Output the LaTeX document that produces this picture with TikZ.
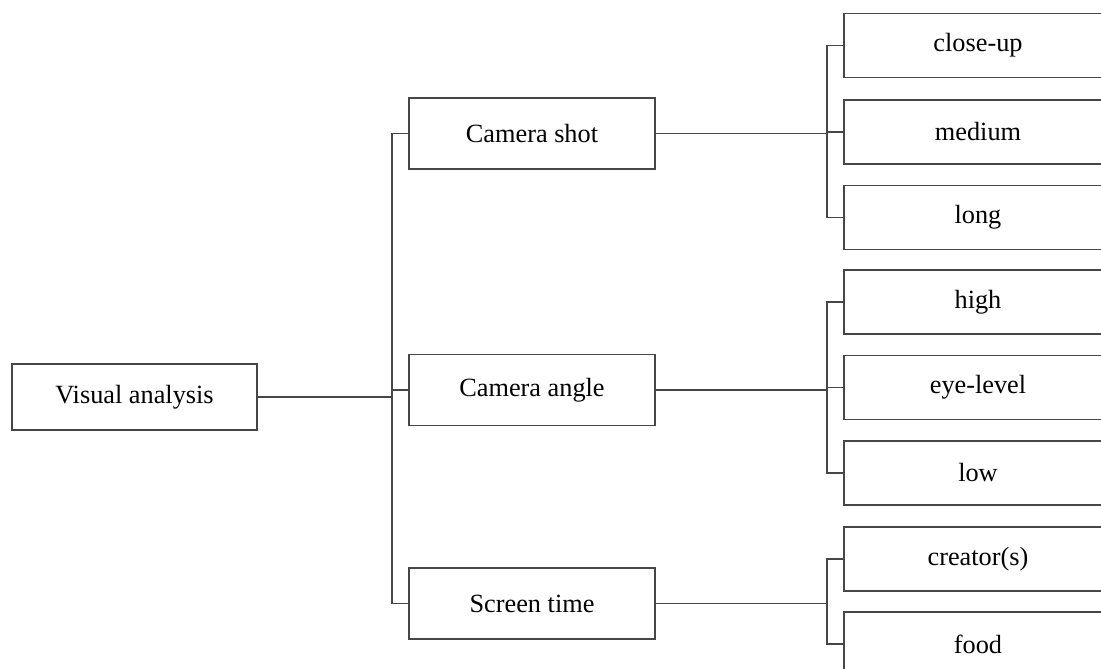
\documentclass[tikz,border=0pt]{standalone}
\usepackage{fontspec}
\setmainfont{Liberation Serif}
\usepackage{tikz}
\usetikzlibrary{positioning, calc}
\definecolor{edge}{RGB}{70,70,70}

\begin{document}
\begin{tikzpicture}[
  x=0.025cm, y=-0.025cm,
  box/.style={draw=edge, line width=0.8pt, align=center, inner sep=0pt,
              font=\fontsize{18.7}{22}\selectfont},
  rootbox/.style={box, minimum width=6.125cm, minimum height=1.65cm},
  midbox/.style={box, minimum width=6.15cm, minimum height=1.775cm},
  leafbox/.style={box, minimum width=6.7cm, minimum height=1.6cm},
  link/.style={draw=edge, line width=0.8pt},
]
  \useasboundingbox (0,0) rectangle (1101,669);
  \clip (0,0) rectangle (1101,669);

  \node[rootbox] (visual) at (134.5, 397) {Visual analysis};

  \node[midbox] (shot)  at (532, 133.5) {Camera shot};
  \node[midbox] (angle) at (532, 390)   {Camera angle};
  \node[midbox] (time)  at (532, 603.5) {Screen time};

  \node[leafbox] (closeup) at (978, 45.5)  {close-up};
  \node[leafbox] (medium)  at (978, 132)   {medium};
  \node[leafbox] (long)    at (978, 217.5) {long};
  \node[leafbox] (high)    at (978, 302)   {high};
  \node[leafbox] (eye)     at (978, 387.5) {eye-level};
  \node[leafbox] (low)     at (978, 473)   {low};
  \node[leafbox] (creator) at (978, 559)   {creator(s)};
  \node[leafbox] (food)    at (978, 644)   {food};

  % branch points
  \coordinate (busA) at (392, 397);
  \coordinate (busB) at (827, 133.5);
  \coordinate (busC) at (827, 390);
  \coordinate (busD) at (827, 603.5);

  \draw[link] (visual.east) -- (busA);
  \draw[link] (shot.west) -| (busA) |- (time.west);
  \draw[link] (angle.west) -- (angle.west -| busA);

  \draw[link] (shot.east) -- (busB);
  \draw[link] (closeup.west) -| (busB) |- (long.west);
  \draw[link] (medium.west) -- (medium.west -| busB);

  \draw[link] (angle.east) -- (busC);
  \draw[link] (high.west) -| (busC) |- (low.west);
  \draw[link] (eye.west) -- (eye.west -| busC);

  \draw[link] (time.east) -- (busD);
  \draw[link] (creator.west) -| (busD) |- (food.west);
\end{tikzpicture}
\end{document}
